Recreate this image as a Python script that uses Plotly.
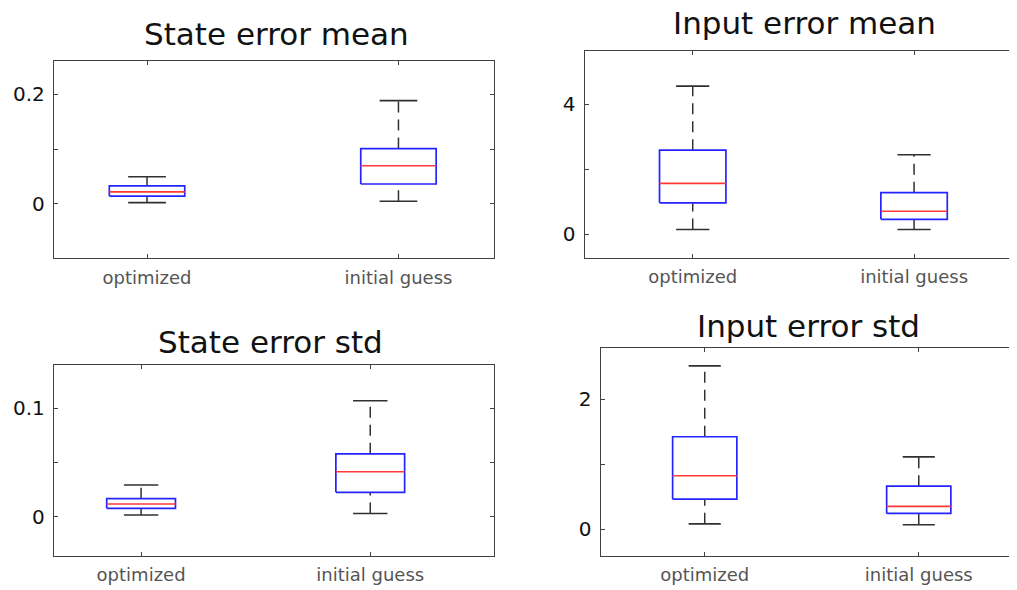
import plotly.graph_objects as go

# ---- data ----
categories = ["optimized", "initial guess"]
panel_titles = ["State error mean", "Input error mean", "State error std", "Input error std"]

# per panel: [optimized, initial guess]
state_mean_lower = [0.0025, 0.005]
state_mean_q1 = [0.0145, 0.0364]
state_mean_median = [0.022, 0.0697]
state_mean_q3 = [0.033, 0.101]
state_mean_upper = [0.0497, 0.1885]

input_mean_lower = [0.15, 0.15]
input_mean_q1 = [0.97, 0.46]
input_mean_median = [1.57, 0.71]
input_mean_q3 = [2.59, 1.28]
input_mean_upper = [4.56, 2.45]

state_std_lower = [0.0015, 0.003]
state_std_q1 = [0.0077, 0.0225]
state_std_median = [0.0117, 0.0415]
state_std_q3 = [0.0166, 0.058]
state_std_upper = [0.0293, 0.107]

input_std_lower = [0.08, 0.066]
input_std_q1 = [0.46, 0.24]
input_std_median = [0.82, 0.35]
input_std_q3 = [1.42, 0.66]
input_std_upper = [2.51, 1.11]

y_tickvals = [[0, 0.1, 0.2], [0, 2, 4], [0, 0.05, 0.1], [0, 1, 2]]
y_ticktext = [["0", "", "0.2"], ["0", "", "4"], ["0", "", "0.1"], ["0", "", "2"]]

panels = [
    (state_mean_lower, state_mean_q1, state_mean_median, state_mean_q3, state_mean_upper),
    (input_mean_lower, input_mean_q1, input_mean_median, input_mean_q3, input_mean_upper),
    (state_std_lower, state_std_q1, state_std_median, state_std_q3, state_std_upper),
    (input_std_lower, input_std_q1, input_std_median, input_std_q3, input_std_upper),
]

# ---- layout geometry (pixels in the 1017x590 window; page body has an 8px margin) ----
OFF = 8
W, H = 1017 - OFF, 590 - OFF
boxes_px = [  # left, right, top, bottom (window pixels)
    (54, 494, 61, 258),
    (584.7, 1017, 51, 257.7),
    (54, 494, 365, 555.7),
    (600.7, 1017, 347.7, 555.7),
]
x_ranges = [[0.63, 2.38], [0.512, 2.465], [0.62, 2.54], [0.514, 2.459]]
y_ranges = [[-0.0985, 0.2607], [-0.72, 5.64], [-0.036, 0.14], [-0.41, 2.79]]
title_pos = [(276, 34), (804, 23), (270, 341.7), (808, 325.7)]

HALF_BOX = 0.15
HALF_CAP = 0.075
BOX_COLOR = "#2424ff"
MED_COLOR = "#ff3a3a"
WHISK_COLOR = "#303030"
AXIS_COLOR = "#404040"

fig = go.Figure()

for i, (lo, q1, med, q3, up) in enumerate(panels):
    ax = "" if i == 0 else str(i + 1)
    xref, yref = "x" + ax, "y" + ax
    for k, cat in enumerate(categories):
        p = k + 1
        # whiskers (dashed)
        fig.add_trace(go.Scatter(x=[p, p], y=[q3[k], up[k]], mode="lines",
                                 line=dict(color=WHISK_COLOR, width=1.5, dash="11px,7px"),
                                 xaxis=xref, yaxis=yref, showlegend=False, hoverinfo="skip"))
        fig.add_trace(go.Scatter(x=[p, p], y=[lo[k], q1[k]], mode="lines",
                                 line=dict(color=WHISK_COLOR, width=1.5, dash="11px,7px"),
                                 xaxis=xref, yaxis=yref, showlegend=False, hoverinfo="skip"))
        # caps
        for v in (lo[k], up[k]):
            fig.add_trace(go.Scatter(x=[p - HALF_CAP, p + HALF_CAP], y=[v, v], mode="lines",
                                     line=dict(color=WHISK_COLOR, width=1.6),
                                     xaxis=xref, yaxis=yref, showlegend=False, hoverinfo="skip"))
        # box
        fig.add_trace(go.Scatter(
            x=[p - HALF_BOX, p + HALF_BOX, p + HALF_BOX, p - HALF_BOX, p - HALF_BOX],
            y=[q1[k], q1[k], q3[k], q3[k], q1[k]], mode="lines",
            fill="toself", fillcolor="white",
            line=dict(color=BOX_COLOR, width=1.7),
            xaxis=xref, yaxis=yref, showlegend=False, name=cat))
        # median
        fig.add_trace(go.Scatter(x=[p - HALF_BOX, p + HALF_BOX], y=[med[k], med[k]], mode="lines",
                                 line=dict(color=MED_COLOR, width=1.7),
                                 xaxis=xref, yaxis=yref, showlegend=False, hoverinfo="skip"))

    l, r, t, b = [v - OFF for v in boxes_px[i]]
    right_panel = i in (1, 3)
    fig.layout["xaxis" + ax] = dict(
        domain=[l / W, min(r / W, 1.0)], range=x_ranges[i], anchor=yref,
        tickvals=[1, 2], ticktext=categories, ticks="inside", ticklen=4,
        tickcolor=AXIS_COLOR, showline=True, linecolor=AXIS_COLOR, linewidth=1.3,
        mirror="ticks", showgrid=False, zeroline=False,
        tickfont=dict(family="DejaVu Sans", size=18, color="#555555"),
        ticklabelstandoff=3,
    )
    fig.layout["yaxis" + ax] = dict(
        domain=[1 - b / H, 1 - t / H], range=y_ranges[i], anchor=xref,
        tickvals=y_tickvals[i], ticktext=y_ticktext[i], ticks="inside", ticklen=4,
        tickcolor=AXIS_COLOR, showline=True, linecolor=AXIS_COLOR, linewidth=1.3,
        mirror=False if right_panel else "ticks", showgrid=False, zeroline=False,
        tickfont=dict(family="DejaVu Sans", size=20, color="#111111"),
        ticklabelstandoff=4,
    )
    tx, ty = title_pos[i]
    fig.add_annotation(text=panel_titles[i], xref="paper", yref="paper",
                       x=(tx - OFF) / W, y=1 - (ty - OFF) / H, xanchor="center", yanchor="middle",
                       showarrow=False,
                       font=dict(family="DejaVu Sans", size=31, color="#111111"))

fig.update_layout(width=W, height=H, margin=dict(l=0, r=0, t=0, b=0),
                  paper_bgcolor="white", plot_bgcolor="white", showlegend=False)

fig.write_html("out.html")
